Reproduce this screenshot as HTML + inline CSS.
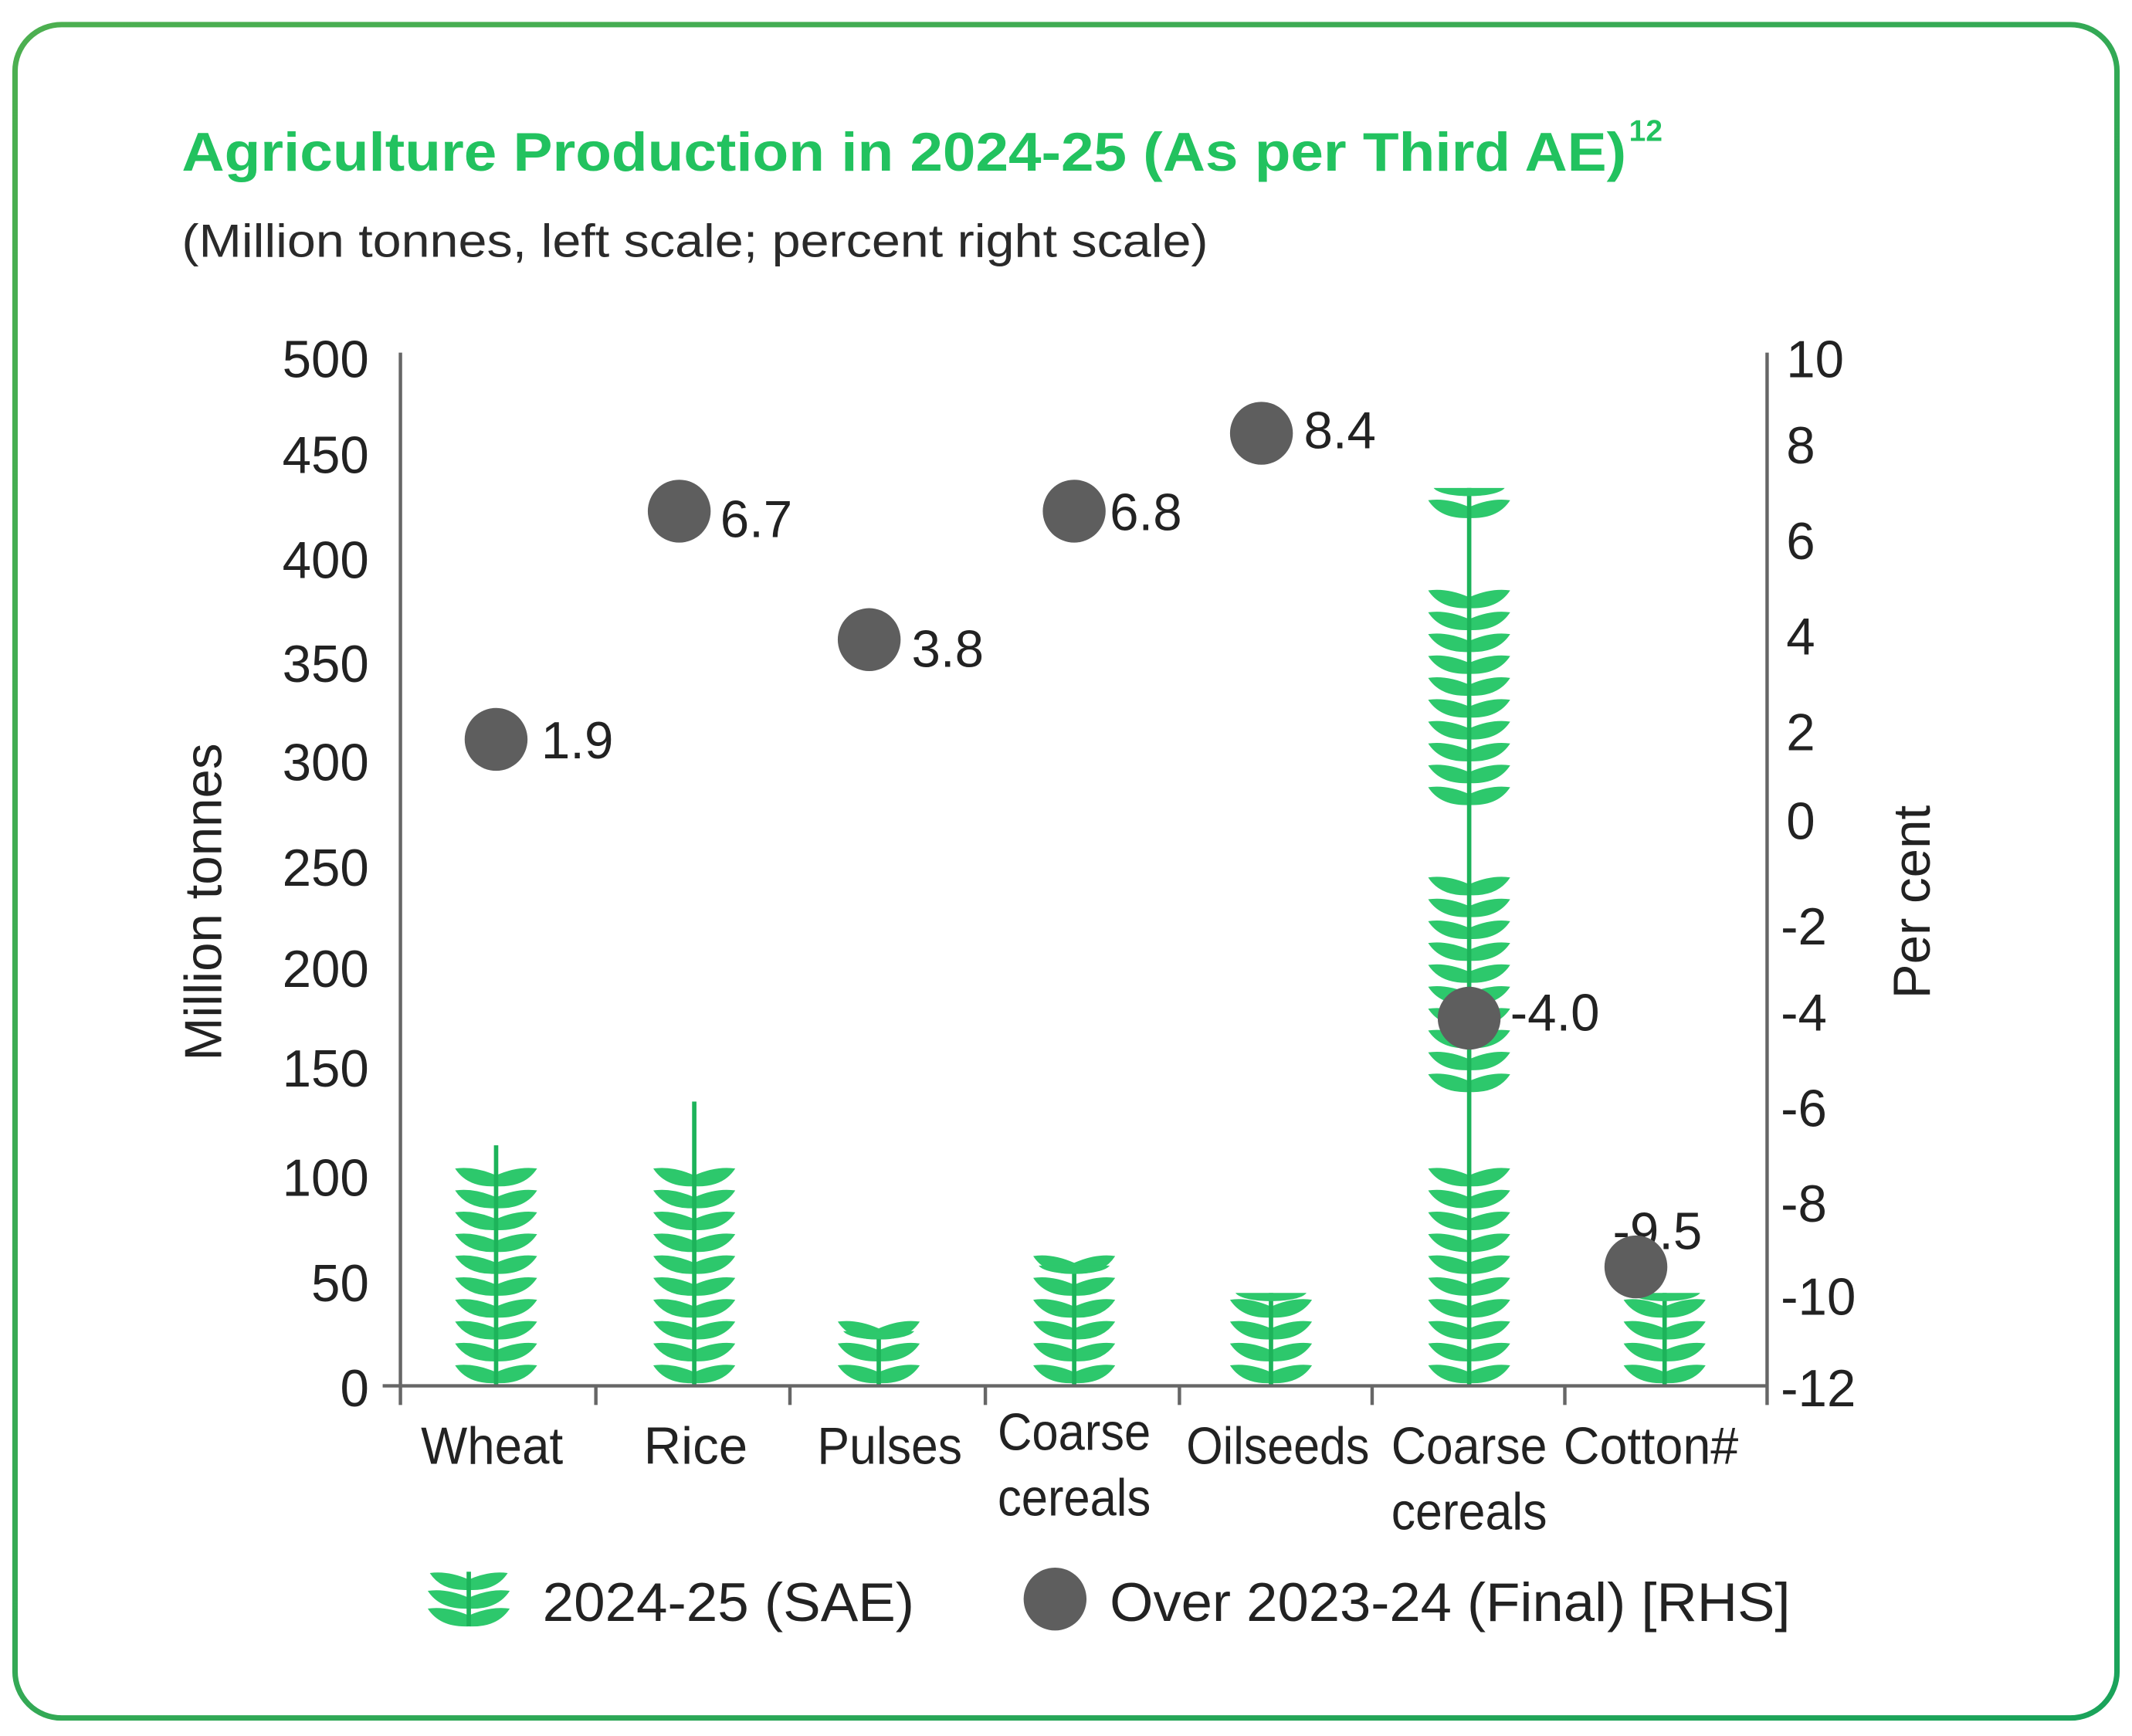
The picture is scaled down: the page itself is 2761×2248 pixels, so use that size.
<!DOCTYPE html>
<html><head><meta charset="utf-8"><style>
html,body{margin:0;padding:0;background:#fff;}
svg{display:block;}
text{font-family:"Liberation Sans",sans-serif;}
</style></head><body>
<svg id="s" width="2761" height="2248" viewBox="0 0 1560 1270.2" preserveAspectRatio="none" xmlns="http://www.w3.org/2000/svg">
<defs><linearGradient id="bg" x1="0" y1="0" x2="1" y2="1"><stop offset="0" stop-color="#4caf50"/><stop offset="1" stop-color="#1aa35a"/></linearGradient></defs>
<rect x="11" y="18" width="1538" height="1239" rx="34" fill="#fff" stroke="url(#bg)" stroke-width="4"/>
<text x="133" y="125" font-size="40" font-weight="bold" fill="#22c25f" textLength="1057" lengthAdjust="spacingAndGlyphs">Agriculture Production in 2024-25 (As per Third AE)</text>
<text x="1192" y="103" font-size="22" font-weight="bold" fill="#22c25f">12</text>
<text x="133" y="188" font-size="34" fill="#2a2a2a" textLength="751" lengthAdjust="spacingAndGlyphs">(Million tonnes, left scale; percent right scale)</text>
<g id="plants"></g>
<g stroke="#666" stroke-width="2.5" fill="none">
<line x1="293" y1="258" x2="293" y2="1028"/>
<line x1="1293" y1="258" x2="1293" y2="1028"/>
<line x1="280" y1="1014" x2="1293" y2="1014"/>
<line x1="436" y1="1014" x2="436" y2="1028"/><line x1="578" y1="1014" x2="578" y2="1028"/>
<line x1="721" y1="1014" x2="721" y2="1028"/><line x1="863" y1="1014" x2="863" y2="1028"/>
<line x1="1004" y1="1014" x2="1004" y2="1028"/><line x1="1145" y1="1014" x2="1145" y2="1028"/>
</g>
<g font-size="38" fill="#222" text-anchor="end">
<text x="270" y="276">500</text><text x="270" y="346">450</text><text x="270" y="423">400</text>
<text x="270" y="499">350</text><text x="270" y="571">300</text><text x="270" y="648">250</text>
<text x="270" y="722">200</text><text x="270" y="795">150</text><text x="270" y="875">100</text>
<text x="270" y="952">50</text><text x="270" y="1029">0</text>
</g>
<g font-size="38" fill="#222">
<text x="1307" y="276">10</text><text x="1307" y="339">8</text><text x="1307" y="409">6</text>
<text x="1307" y="479">4</text><text x="1307" y="549">2</text><text x="1307" y="614">0</text>
<text x="1303" y="691">-2</text><text x="1303" y="754">-4</text><text x="1303" y="824">-6</text>
<text x="1303" y="894">-8</text><text x="1303" y="962">-10</text><text x="1303" y="1029">-12</text>
</g>
<text transform="translate(162,660) rotate(-90)" font-size="38" fill="#222" text-anchor="middle">Million tonnes</text>
<text transform="translate(1412,660) rotate(-90)" font-size="38" fill="#222" text-anchor="middle">Per cent</text>
<g font-size="38" fill="#222" text-anchor="middle" font-family="'Liberation Sans Narrow','Liberation Sans',sans-serif">
<text x="360" y="1071" textLength="104" lengthAdjust="spacingAndGlyphs">Wheat</text>
<text x="509" y="1071">Rice</text>
<text x="651" y="1071" textLength="106" lengthAdjust="spacingAndGlyphs">Pulses</text>
<text x="786" y="1061" textLength="112" lengthAdjust="spacingAndGlyphs">Coarse</text>
<text x="786" y="1109" textLength="112" lengthAdjust="spacingAndGlyphs">cereals</text>
<text x="935" y="1071" textLength="134" lengthAdjust="spacingAndGlyphs">Oilseeds</text>
<text x="1075" y="1071" textLength="114" lengthAdjust="spacingAndGlyphs">Coarse</text>
<text x="1075" y="1119" textLength="114" lengthAdjust="spacingAndGlyphs">cereals</text>
<text x="1208" y="1071" textLength="128" lengthAdjust="spacingAndGlyphs">Cotton#</text>
</g>
<g font-size="38" fill="#222">
<text x="1180" y="914">-9.5</text>
</g>
<g fill="#5e5e5e">
<circle cx="363" cy="541" r="23"/><circle cx="497" cy="374" r="23"/><circle cx="636" cy="468" r="23"/>
<circle cx="786" cy="374" r="23"/><circle cx="923" cy="317" r="23"/><circle cx="1075" cy="745" r="23"/>
<circle cx="1197" cy="927" r="23"/><circle cx="772" cy="1170" r="23"/>
</g>
<g font-size="38" fill="#222">
<text x="396" y="555">1.9</text><text x="527" y="393">6.7</text><text x="667" y="488">3.8</text>
<text x="812" y="388">6.8</text><text x="954" y="328">8.4</text><text x="1105" y="754">-4.0</text>
</g>
<g id="leg"></g>
<text x="397" y="1186" font-size="40" fill="#222" textLength="272" lengthAdjust="spacingAndGlyphs">2024-25 (SAE)</text>
<text x="812" y="1186" font-size="40" fill="#222" textLength="498" lengthAdjust="spacingAndGlyphs">Over 2023-24 (Final) [RHS]</text>
</svg>
<script>
var NS="http://www.w3.org/2000/svg";
function leaf(g,cx,y,s){
 s=s||1;
 var p=document.createElementNS(NS,"path");
 var d="M"+cx+","+(y+5*s)+" Q"+(cx-16*s)+","+(y-2*s)+" "+(cx-30*s)+","+y+" Q"+(cx-21*s)+","+(y+14*s)+" "+cx+","+(y+13*s)+" Z "+
       "M"+cx+","+(y+5*s)+" Q"+(cx+16*s)+","+(y-2*s)+" "+(cx+30*s)+","+y+" Q"+(cx+21*s)+","+(y+14*s)+" "+cx+","+(y+13*s)+" Z";
 p.setAttribute("d",d);p.setAttribute("fill","#2dc86c");g.appendChild(p);
}
function stem(g,cx,top,bot){
 var r=document.createElementNS(NS,"rect");
 r.setAttribute("x",cx-1.6);r.setAttribute("y",top);r.setAttribute("width",3.2);r.setAttribute("height",bot-top);
 r.setAttribute("fill","#1db35a");g.appendChild(r);
}
var g=document.getElementById("plants");
function plant(cx,top,stemTop,ranges){
 ranges.forEach(function(r){for(var y=r[0];y>=r[1]-1;y-=16)leaf(g,cx,y);});
 stem(g,cx,stemTop,1014);
}
plant(363,855,838,[[999,853]]);
plant(508,855,806,[[999,853]]);
plant(643,975,974,[[999,965]]);
plant(786,927,926,[[999,917]]);
plant(930,947,946,[[999,949]]);
plant(1218,947,946,[[999,949]]);
plant(1075,357,357,[[999,853],[786,643],[576,432],[366,366]]);
[[643,974],[786,926],[930,946],[1218,946],[1075,357]].forEach(function(t){
 var r=document.createElementNS(NS,"path");var cx=t[0],y=t[1];
 r.setAttribute("d","M"+(cx-26)+","+y+" L"+(cx+26)+","+y+" C"+(cx+20)+","+(y+8)+" "+(cx-20)+","+(y+8)+" "+(cx-26)+","+y+" Z");
 r.setAttribute("fill","#2dc86c");g.appendChild(r);
});
var lg=document.getElementById("leg");
leaf(lg,343,1151,0.95);leaf(lg,343,1164,1);leaf(lg,343,1177,1);
stem(lg,343,1150,1190);
</script>
</body></html>
